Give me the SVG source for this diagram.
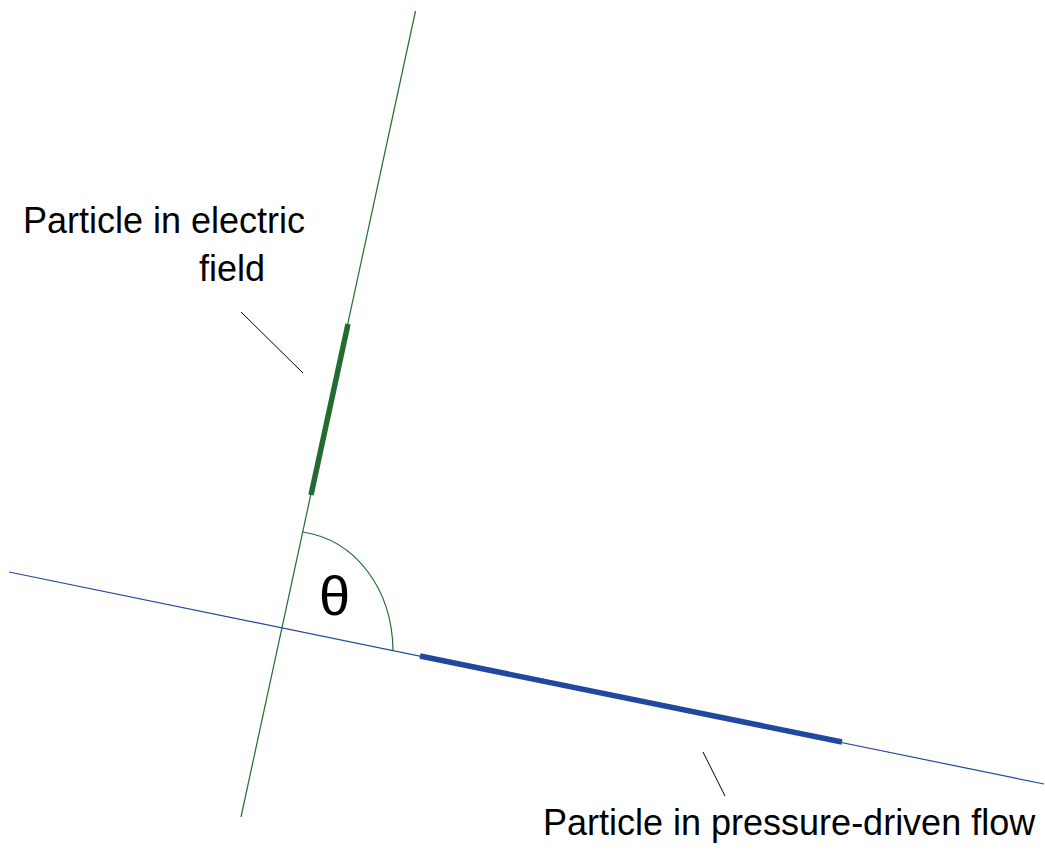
<svg xmlns="http://www.w3.org/2000/svg" width="1045" height="850" viewBox="0 0 1045 850">
<style>
.g{stroke:#236b30;fill:none}
.b{stroke:#22479e;fill:none}
.k{stroke:#000;stroke-width:1;fill:none}
text{font-family:"Liberation Sans",Arial,sans-serif;font-size:36px;fill:#000}
</style>
<rect width="1045" height="850" fill="#fff"/>
<g id="connectors">
<line id="field-axis" class="g" x1="415.5" y1="11" x2="241" y2="817" stroke-width="1.2"/>
<line id="flow-axis" class="b" x1="9" y1="572" x2="1044" y2="784" stroke-width="1.2"/>
<path id="angle-arc" class="g" d="M303,532 C355,540 392,588 393,650" stroke-width="1.2"/>
<line id="leader-field" class="k" x1="241" y1="312" x2="303" y2="373"/>
<line id="leader-flow" class="k" x1="703" y1="752" x2="725" y2="796"/>
</g>
<g id="particle-field">
<line class="g" x1="348" y1="324" x2="311" y2="495" stroke-width="5.5"/>
</g>
<g id="particle-flow">
<line class="b" x1="420" y1="656" x2="842" y2="742" stroke-width="5.5"/>
</g>
<g id="label-field">
<text x="23" y="233">Particle in electric</text>
<text x="199" y="281">field</text>
</g>
<g id="label-flow">
<text x="543" y="835">Particle in pressure-driven flow</text>
</g>
<g id="label-theta">
<text x="319" y="615" style="font-size:56px">θ</text>
</g>
</svg>
